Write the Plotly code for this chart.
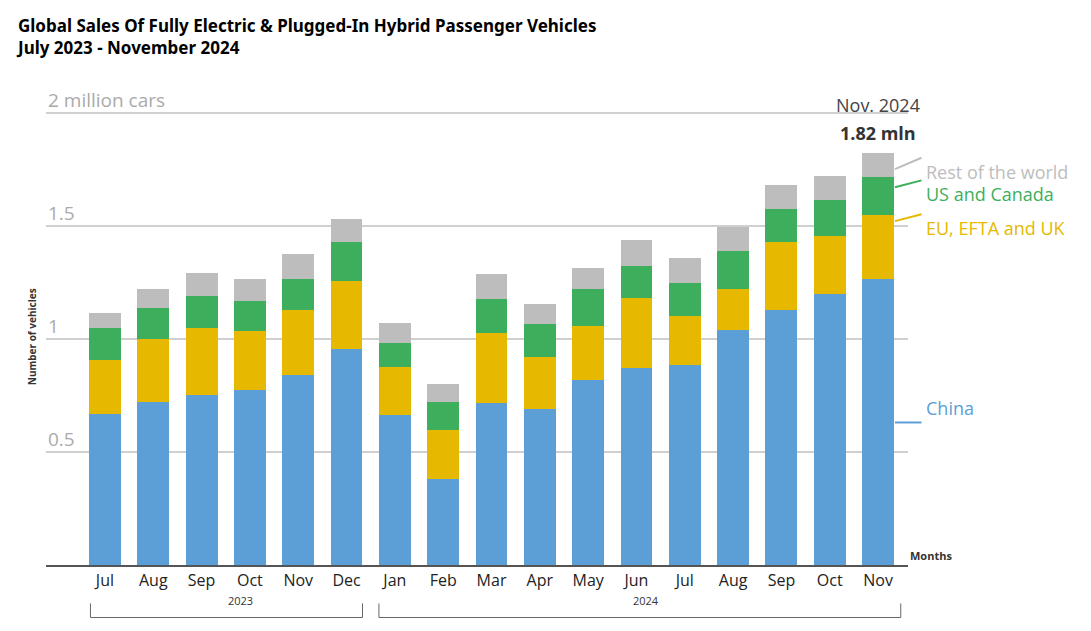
import plotly.graph_objects as go

months = ["Jul","Aug","Sep","Oct","Nov","Dec","Jan","Feb","Mar","Apr","May","Jun","Jul","Aug","Sep","Oct","Nov"]
china = [0.668,0.720,0.752,0.774,0.840,0.954,0.664,0.382,0.716,0.690,0.818,0.870,0.884,1.037,1.125,1.196,1.266]
eu    = [0.237,0.278,0.294,0.259,0.285,0.303,0.211,0.216,0.308,0.229,0.237,0.308,0.215,0.185,0.304,0.259,0.281]
us    = [0.141,0.140,0.145,0.136,0.141,0.172,0.105,0.122,0.150,0.145,0.163,0.145,0.149,0.167,0.145,0.158,0.167]
rest  = [0.070,0.084,0.101,0.097,0.110,0.101,0.088,0.080,0.114,0.088,0.096,0.114,0.110,0.106,0.105,0.106,0.106]
series = [("China",china,"#5b9fd6"),("EU, EFTA and UK",eu,"#e6b800"),("US and Canada",us,"#3daf5c"),("Rest of the world",rest,"#bdbdbd")]
x = list(range(len(months)))

fig = go.Figure()
for name, vals, col in series:
    fig.add_bar(x=x, y=vals, name=name, marker=dict(color=col, line=dict(width=0)), width=0.66)

W, H = 1091, 631
L, R, T, B = 38, 191, 100, 74
XR = [-1.22, 16.62]
YMAX = 2.02
def px(v): return (v - XR[0]) / (XR[1] - XR[0])
def py(v): return v / YMAX

fig.update_layout(
    barmode="stack", width=W, height=H, showlegend=False,
    plot_bgcolor="white", paper_bgcolor="white",
    margin=dict(l=L, r=R, t=T, b=B),
    font=dict(family="Open Sans, sans-serif"),
    xaxis=dict(range=XR, tickvals=x, ticktext=months, showgrid=False,
               showline=True, linecolor="#555", linewidth=1.5, ticks="",
               tickfont=dict(size=16, color="#222"), zeroline=False),
    yaxis=dict(range=[0, YMAX], tickvals=[0.5, 1, 1.5, 2], showticklabels=False,
               gridcolor="#d0d0d0", gridwidth=1.5, zeroline=False),
)

ann = []
for v, t in [(0.5,"0.5"),(1,"1"),(1.5,"1.5"),(2,"2 million cars")]:
    ann.append(dict(x=0, xref="paper", y=v, yref="y", text=t, showarrow=False, xanchor="left",
                    yanchor="bottom", font=dict(size=19, color="#aaaaaa"), yshift=-2))
ann += [
    dict(x=0.0, xref="paper", y=1.21, yref="paper", text="<b>Global Sales Of Fully Electric & Plugged-In Hybrid Passenger Vehicles<br>July 2023 - November 2024</b>",
         showarrow=False, xanchor="left", yanchor="top", align="left", xshift=-32, font=dict(size=17, color="black", family="Noto Sans, sans-serif")),
    dict(x=-0.027, xref="paper", y=0.5, yref="paper", text="<b>Number of vehicles</b>", textangle=-90,
         showarrow=False, font=dict(size=10, color="#333")),
    dict(x=1.0, xref="paper", y=0, yref="paper", text="<b>Months</b>", showarrow=False, xanchor="left",
         yanchor="bottom", font=dict(size=11, color="#333")),
    dict(x=16, y=2.0, text="Nov. 2024", showarrow=False, yanchor="bottom", yshift=-6, font=dict(size=18, color="#444")),
    dict(x=16, y=1.82, text="<b>1.82 mln</b>", showarrow=False, yanchor="bottom", yshift=6, font=dict(size=18, color="#333")),
    dict(x=px(2.5), xref="paper", y=py(-0.2), yref="paper", text="2023", showarrow=False, font=dict(size=11, color="#333")),
    dict(x=px(11.5), xref="paper", y=py(-0.2), yref="paper", text="2024", showarrow=False, font=dict(size=11, color="#333")),
]
shapes = []
pos = {"China":(0.63,0.63),"EU, EFTA and UK":(1.52,1.55),"US and Canada":(1.67,1.70),"Rest of the world":(1.75,1.80)}
for name, vals, col in series:
    y0, y1 = pos[name]
    shapes.append(dict(type="line", xref="paper", yref="paper", x0=px(16.35), x1=px(16.9),
                       y0=py(y0), y1=py(y1), line=dict(color=col, width=2)))
    ann.append(dict(x=px(16.95), xref="paper", y=py(y1), yref="paper", text=name, showarrow=False,
                    xanchor="left", font=dict(size=18, color=col)))
for x0, x1 in [(-0.3, 5.33), (5.67, 16.47)]:
    a, b = px(x0), px(x1)
    yt, yb = py(-0.17), py(-0.232)
    shapes.append(dict(type="path", xref="paper", yref="paper",
                       path=f"M {a} {yt} L {a} {yb} L {b} {yb} L {b} {yt}",
                       line=dict(color="#666", width=1)))
fig.update_layout(annotations=ann, shapes=shapes)
fig.write_html("out.html")
